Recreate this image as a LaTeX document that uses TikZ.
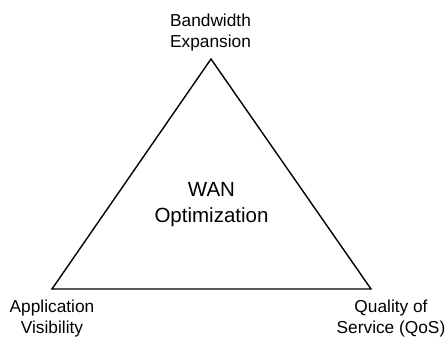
\documentclass[tikz,border=0pt]{standalone}
\usepackage{fontspec}
\setmainfont{Liberation Sans}
\usepackage{tikz}
\usetikzlibrary{positioning,calc}

\begin{document}
\begin{tikzpicture}[x=1pt,y=-1pt]
\tikzset{
corner/.style={font=\fontsize{17.3}{21.5}\selectfont,align=center,anchor=base,inner sep=0pt},
centre/.style={font=\fontsize{20.5}{26.5}\selectfont,align=center,anchor=base,inner sep=0pt},
edge/.style={draw=black,line width=1.4pt,line join=miter}
}
\useasboundingbox (0,0) rectangle (448,339);
% corners of the triangle
\coordinate (apex) at (211,59);
\coordinate (left) at (52,289);
\coordinate (right) at (371,289);
\draw[edge] (apex) -- (left) -- (right) -- cycle;
% labels
\node[corner] (bw) at (210.5,48) {Bandwidth\\Expansion};
\node[corner] (av) at (52,334) {Application\\Visibility};
\node[corner] (qos) at (391,334) {Quality of\\Service (QoS)};
\node[centre] (wan) at (211.5,223) {WAN\\Optimization};
\end{tikzpicture}
\end{document}
